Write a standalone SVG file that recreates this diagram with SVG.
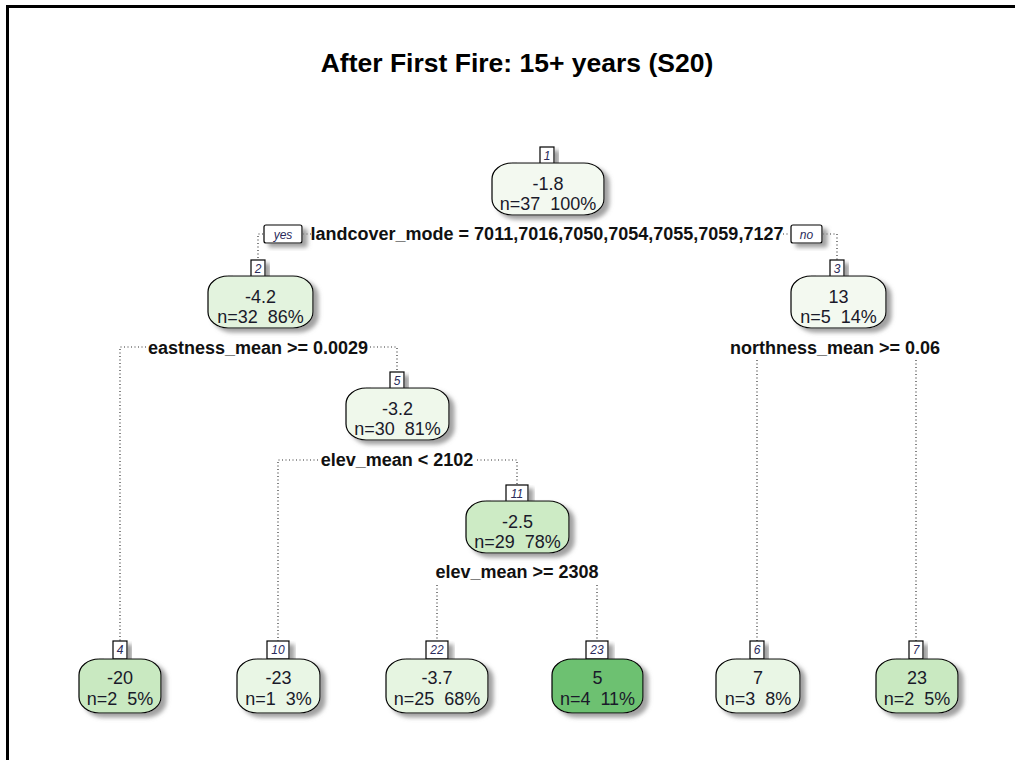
<svg xmlns="http://www.w3.org/2000/svg" width="1015" height="760" viewBox="0 0 1015 760">
  <defs>
    <filter id="shadow" x="-20%" y="-20%" width="150%" height="160%">
      <feGaussianBlur in="SourceAlpha" stdDeviation="2.2"/>
      <feOffset dx="5" dy="4" result="off"/>
      <feFlood flood-color="#8a8a8a" flood-opacity="0.8"/>
      <feComposite in2="off" operator="in"/>
      <feMerge>
        <feMergeNode/>
        <feMergeNode in="SourceGraphic"/>
      </feMerge>
    </filter>
  </defs>
  <style>
    .frame { fill: none; stroke: #000; stroke-width: 3; }
    .title { font-family: "Liberation Sans", Arial, sans-serif; font-size: 26.5px; font-weight: bold; fill: #000; text-anchor: middle; }
    .box { stroke: #000; stroke-width: 1.2; filter: url(#shadow); }
    .tag { fill: #fff; stroke: #000; stroke-width: 1.2; filter: url(#shadow); }
    .tagtxt { font-family: "Liberation Sans", Arial, sans-serif; font-size: 12px; font-style: italic; fill: #2a2a5a; text-anchor: middle; }
    .val { font-family: "Liberation Sans", Arial, sans-serif; font-size: 18px; fill: #1a1a2a; text-anchor: middle; }
    .split { font-family: "Liberation Sans", Arial, sans-serif; font-size: 18px; font-weight: bold; fill: #111; text-anchor: middle; }
    .yn { font-family: "Liberation Sans", Arial, sans-serif; font-size: 12px; font-style: italic; fill: #2a2a5a; text-anchor: middle; }
    .edge { fill: none; stroke: #333; stroke-width: 1.2; stroke-dasharray: 1 2.5; }
  </style>

  <rect width="1015" height="760" fill="#fff"/>
  <!-- outer frame, open to the right and bottom edges -->
  <path class="frame" d="M7.5,762 V6.5 H1017"/>

  <text class="title" x="517" y="72">After First Fire: 15+ years (S20)</text>

  <!-- dotted connectors -->
  <g id="connectors">
    <path class="edge" d="M263,234 H258 V260"/>
    <path class="edge" d="M303,234 H311"/>
    <path class="edge" d="M783,234 H790"/>
    <path class="edge" d="M823,234 H837 V260"/>
    <path class="edge" d="M146,347 H120 V641"/>
    <path class="edge" d="M370,347 H397 V372"/>
    <path class="edge" d="M318,460 H278 V641"/>
    <path class="edge" d="M477,460 H517 V485"/>
    <path class="edge" d="M437,585 V641"/>
    <path class="edge" d="M597,585 V641"/>
    <path class="edge" d="M757,360 V641"/>
    <path class="edge" d="M916,360 V641"/>
  </g>

  <!-- split labels -->
  <g id="splits">
    <rect class="tag" x="264" y="225" width="38" height="18" rx="2"/>
    <text class="yn" x="283" y="238.5">yes</text>
    <text class="split" x="547" y="240">landcover_mode = 7011,7016,7050,7054,7055,7059,7127</text>
    <rect class="tag" x="791" y="225" width="31" height="18" rx="2"/>
    <text class="yn" x="806.5" y="238.5">no</text>
    <text class="split" x="258" y="354">eastness_mean &gt;= 0.0029</text>
    <text class="split" x="835" y="354">northness_mean &gt;= 0.06</text>
    <text class="split" x="397" y="466">elev_mean &lt; 2102</text>
    <text class="split" x="517" y="578">elev_mean &gt;= 2308</text>
  </g>

  <g id="node1">
    <rect class="tag" x="540" y="147" width="14" height="17"/>
    <text class="tagtxt" x="547" y="160">1</text>
    <rect class="box" x="492" y="163" width="112" height="52" rx="20" ry="16" fill="#f3f9f0"/>
    <text class="val" x="548" y="190">-1.8</text>
    <text class="val" x="548" y="210" xml:space="preserve">n=37  100%</text>
  </g>

  <g id="node2">
    <rect class="tag" x="251" y="260" width="14" height="17"/>
    <text class="tagtxt" x="258" y="273">2</text>
    <rect class="box" x="208" y="276" width="105" height="52" rx="20" ry="16" fill="#e3f3de"/>
    <text class="val" x="260.5" y="303">-4.2</text>
    <text class="val" x="260.5" y="323" xml:space="preserve">n=32  86%</text>
  </g>

  <g id="node3">
    <rect class="tag" x="830" y="260" width="14" height="17"/>
    <text class="tagtxt" x="837" y="273">3</text>
    <rect class="box" x="791" y="276" width="95" height="52" rx="20" ry="16" fill="#f3f9f0"/>
    <text class="val" x="838.5" y="303">13</text>
    <text class="val" x="838.5" y="323" xml:space="preserve">n=5  14%</text>
  </g>

  <g id="node5">
    <rect class="tag" x="390" y="372" width="14" height="17"/>
    <text class="tagtxt" x="397" y="385">5</text>
    <rect class="box" x="346" y="388" width="103" height="52" rx="20" ry="16" fill="#eff8eb"/>
    <text class="val" x="397.5" y="415">-3.2</text>
    <text class="val" x="397.5" y="435" xml:space="preserve">n=30  81%</text>
  </g>

  <g id="node11">
    <rect class="tag" x="506" y="485" width="22" height="17"/>
    <text class="tagtxt" x="517" y="498">11</text>
    <rect class="box" x="466" y="501" width="103" height="52" rx="20" ry="16" fill="#cdebc5"/>
    <text class="val" x="517.5" y="528">-2.5</text>
    <text class="val" x="517.5" y="548" xml:space="preserve">n=29  78%</text>
  </g>

  <g id="node4">
    <rect class="tag" x="113" y="641" width="14" height="18"/>
    <text class="tagtxt" x="120" y="654">4</text>
    <rect class="box" x="79" y="659" width="82" height="54" rx="20" ry="16" fill="#c9e9c1"/>
    <text class="val" x="120" y="684">-20</text>
    <text class="val" x="120" y="705" xml:space="preserve">n=2  5%</text>
  </g>

  <g id="node10">
    <rect class="tag" x="267" y="641" width="22" height="18"/>
    <text class="tagtxt" x="278" y="654">10</text>
    <rect class="box" x="237" y="659" width="83" height="54" rx="20" ry="16" fill="#e9f6e5"/>
    <text class="val" x="278.5" y="684">-23</text>
    <text class="val" x="278.5" y="705" xml:space="preserve">n=1  3%</text>
  </g>

  <g id="node22">
    <rect class="tag" x="426" y="641" width="22" height="18"/>
    <text class="tagtxt" x="437" y="654">22</text>
    <rect class="box" x="386" y="659" width="102" height="54" rx="20" ry="16" fill="#e6f5e1"/>
    <text class="val" x="437" y="684">-3.7</text>
    <text class="val" x="437" y="705" xml:space="preserve">n=25  68%</text>
  </g>

  <g id="node23">
    <rect class="tag" x="586" y="641" width="22" height="18"/>
    <text class="tagtxt" x="597" y="654">23</text>
    <rect class="box" x="552" y="659" width="91" height="54" rx="20" ry="16" fill="#6dc171"/>
    <text class="val" x="597.5" y="684">5</text>
    <text class="val" x="597.5" y="705" xml:space="preserve">n=4  11%</text>
  </g>

  <g id="node6">
    <rect class="tag" x="750" y="641" width="14" height="18"/>
    <text class="tagtxt" x="757" y="654">6</text>
    <rect class="box" x="716" y="659" width="84" height="54" rx="20" ry="16" fill="#e9f6e5"/>
    <text class="val" x="758" y="684">7</text>
    <text class="val" x="758" y="705" xml:space="preserve">n=3  8%</text>
  </g>

  <g id="node7">
    <rect class="tag" x="909" y="641" width="14" height="18"/>
    <text class="tagtxt" x="916" y="654">7</text>
    <rect class="box" x="876" y="659" width="82" height="54" rx="20" ry="16" fill="#c9e9c1"/>
    <text class="val" x="917" y="684">23</text>
    <text class="val" x="917" y="705" xml:space="preserve">n=2  5%</text>
  </g>
</svg>
